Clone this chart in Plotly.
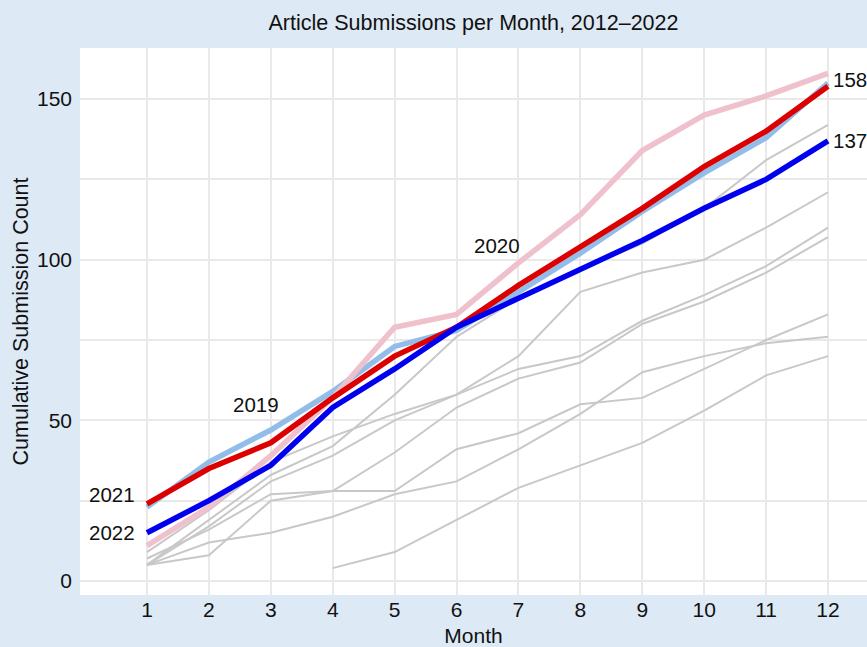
import plotly.graph_objects as go

months = list(range(1, 13))
month_labels = [str(m) for m in months]

# Background years (2012-2018), cumulative counts
gray_2012 = [5, 19, 33, 42, 58, 76, 88, 97, 105, 116, 131, 142]
gray_2013 = [9, 22, 37, 45, 52, 58, 70, 90, 96, 100, 110, 121]
gray_2014 = [5, 17, 31, 39, 50, 58, 66, 70, 81, 89, 98, 110]
gray_2015 = [5, 8, 25, 28, 40, 54, 63, 68, 80, 87, 96, 107]
gray_2016 = [7, 16, 27, 28, 28, 41, 46, 55, 57, 66, 75, 83]
gray_2017 = [5, 12, 15, 20, 27, 31, 41, 52, 65, 70, 74, 76]
gray_2018 = [None, None, None, 4, 9, 19, 29, 36, 43, 53, 64, 70]
gray_series = [gray_2012, gray_2013, gray_2014, gray_2015, gray_2016, gray_2017, gray_2018]

y2019 = [23, 37, 47, 59, 73, 78, 90, 102, 115, 127, 138, 155]
y2020 = [11, 23, 39, 57, 79, 83, 99, 114, 134, 145, 151, 158]
y2021 = [24, 35, 43, 57, 70, 79, 92, 104, 116, 129, 140, 154]
y2022 = [15, 25, 36, 54, 66, 79, 88, 97, 106, 116, 125, 137]

y_ticks = [0, 50, 100, 150]

FONT = "Liberation Sans, Arial, Helvetica, sans-serif"

fig = go.Figure()
for s in gray_series:
    fig.add_trace(go.Scatter(x=months, y=s, mode="lines",
                             line=dict(color="#c8c8c8", width=2),
                             hoverinfo="skip", showlegend=False))

fig.add_trace(go.Scatter(x=months, y=y2019, mode="lines",
                         line=dict(color="#92bde9", width=5.5), showlegend=False))
fig.add_trace(go.Scatter(x=months, y=y2020, mode="lines",
                         line=dict(color="#efc1cc", width=5.5), showlegend=False))
fig.add_trace(go.Scatter(x=months, y=y2021, mode="lines",
                         line=dict(color="#dd0000", width=5.5), showlegend=False))
fig.add_trace(go.Scatter(x=months, y=y2022, mode="lines",
                         line=dict(color="#0000ee", width=5.5), showlegend=False))

ann_font = dict(family=FONT, size=20.5, color="#111111")
annotations = [
    dict(x=0.84, y=26.8, text="2021", xanchor="right", yanchor="middle"),
    dict(x=0.84, y=y2022[0], text="2022", xanchor="right", yanchor="middle"),
    dict(x=2.76, y=54.8, text="2019", xanchor="center", yanchor="middle"),
    dict(x=6.65, y=104.4, text="2020", xanchor="center", yanchor="middle"),
    dict(x=12.05, y=156, text=str(y2020[-1]), xanchor="left", yanchor="middle"),
    dict(x=12.05, y=y2022[-1], text=str(y2022[-1]), xanchor="left", yanchor="middle"),
]
for a in annotations:
    a.update(xref="x", yref="y", showarrow=False, font=ann_font)

grid = "#e9e9e9"
fig.update_layout(
    width=867, height=647,
    margin=dict(l=80, r=0, t=48, b=52),
    paper_bgcolor="#dde9f5",
    plot_bgcolor="#ffffff",
    font=dict(family=FONT, size=21, color="#111111"),
    title=dict(text="Article Submissions per Month, 2012\u20132022",
               x=0.5, xref="paper", y=1 - 22 / 647, yref="container",
               xanchor="center", yanchor="middle",
               font=dict(family=FONT, size=21.5, color="#111111")),
    xaxis=dict(range=[-0.082, 12.63], tickvals=months, ticktext=month_labels,
               showgrid=True, gridcolor=grid, gridwidth=2, zeroline=False,
               showline=False, ticks="", automargin=False,
               tickfont=dict(size=21),
               title=dict(text="Month", standoff=9, font=dict(size=21))),
    yaxis=dict(range=[-4.36, 165.9], tickvals=y_ticks,
               showgrid=True, gridcolor=grid, gridwidth=2, zeroline=False,
               showline=False, ticks="", automargin=False,
               ticklabelstandoff=7,
               minor=dict(dtick=25, showgrid=True, gridcolor=grid, gridwidth=2),
               tickfont=dict(size=21),
               title=dict(text="Cumulative Submission Count", standoff=2,
                          font=dict(size=21.5))),
    annotations=annotations,
)

fig.write_html("out.html",
               config={"displayModeBar": False},
               post_script="document.body.style.margin='0';document.body.style.overflow='hidden';")
